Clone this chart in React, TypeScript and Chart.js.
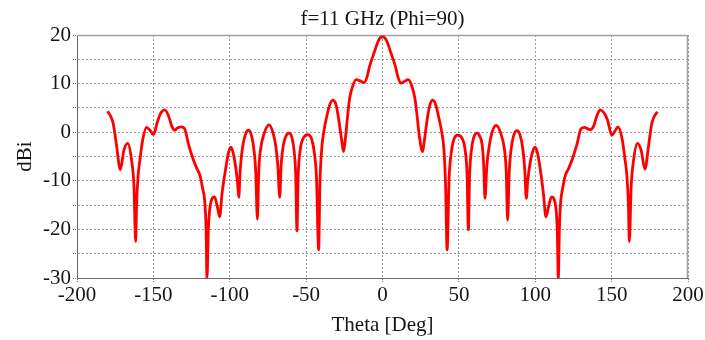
import { useEffect, useRef } from 'react';
import { Chart, registerables } from 'chart.js';

Chart.register(...registerables);

const titleText = 'f=11 GHz (Phi=90)';
const xAxisTitle = 'Theta [Deg]';
const yAxisTitle = 'dBi';
const xMin = -200;
const xMax = 200;
const xStep = 50;
const yMin = -30;
const yMax = 20;
const yGridStep = 5;
const yLabelStep = 10;

const thetaDeg = [
  -180, -178, -176.3, -174.2, -171.6, -169.3, -166.8, -164.3, -162.7, -161.6,
  -161, -160, -158.8, -157, -154.5, -152, -150, -147, -145, -142.5,
  -140, -138, -136.3, -134, -131.6, -129.4, -127, -124, -121.5, -119.6,
  -117.8, -116.3, -115.5, -114.9, -114, -113.3, -111.8, -110, -108.2, -106.6,
  -105, -102.4, -100.8, -99.3, -97.8, -96.2, -95, -94.1, -93.2, -91.8,
  -89.8, -87.6, -85.5, -84, -83, -81.9, -81, -79.8, -77.5, -74.3,
  -71.5, -69.8, -68.5, -67.3, -66.3, -64.8, -63.2, -61.2, -59.2, -57.8,
  -56.8, -56, -55.2, -53.8, -51.8, -48.8, -46.3, -44.5, -43.2, -41.8,
  -41, -39.8, -38.2, -36.8, -34.7, -32.5, -30.4, -28.6, -26.8, -25.5,
  -24.2, -22.8, -21.5, -19.5, -17.2, -15, -12, -10, -8.5, -5.2,
  -3, -1.2, 0,
  1.2, 3, 5.2, 8.5, 10, 12.2, 14.5, 16.8, 19.2, 21.2,
  22.6, 24.2, 26.3, 27.5, 29.2, 31, 32.9, 35, 37, 38.5,
  40.2, 41.3, 42.3, 43.6, 44.9, 46.7, 49.2, 52, 54, 55.4,
  56.2, 57, 58.1, 59.6, 61.9, 63.6, 65.2, 66.2, 67.1, 68.3,
  69.8, 71.5, 74.3, 77.5, 79.8, 81, 81.9, 83, 84, 85.6,
  88, 90, 91.9, 93.2, 94.1, 95.1, 96.3, 98.1, 99.8, 101.4,
  103, 105.3, 107, 108.8, 110.7, 112.4, 113.8, 114.4, 115.1, 115.8,
  116.6, 118, 119.8, 121.8, 124.3, 127.3, 129.8, 132, 135.9, 138.3,
  140.3, 142.5, 145, 147.3, 150.1, 152.3, 154.2, 157, 158.8, 160,
  161, 161.6, 162.8, 164.4, 166.9, 169.3, 171.8, 174.3, 176.3, 178,
  180,
];

const gainDbi = [
  4.3, 3.3, 1.8, -2.5, -7.7, -3.7, -2.3, -5.7, -11.2, -22.5,
  -15, -9, -5.7, -1.6, 1.0, 0.3, -0.5, 2.5, 4.0, 4.6,
  3.3, 1.3, 0.4, 0.9, 1.1, 0.6, -2.5, -5.5, -7.5, -8.8,
  -11.5, -14.5, -20, -30, -20, -16.5, -13.8, -13.3, -15.2, -17.4,
  -12.5, -7, -4.2, -3.1, -4.2, -7, -10, -13.4, -8, -3.5,
  -0.5, 0.4, -1, -4, -8, -17.9, -8, -3.5, -0.3, 1.5,
  -0.3, -3, -7, -13.4, -6.5, -2.5, -0.8, -0.2, -1.2, -4,
  -9, -20.3, -9, -3.5, -1.2, -0.5, -1.5, -4.5, -9.5, -24.2,
  -11, -3.5, 0.5, 2.8, 5.5, 6.6, 5.6, 2.5, -1.5, -4.0,
  -1, 3.5, 7, 9.5, 10.8, 10.6, 10.2, 11.5, 13.5, 16.6,
  18.6, 19.5, 19.6,
  19.5, 18.6, 16.6, 13.5, 11.5, 10.1, 10.5, 10.8, 9.5, 7,
  3.5, -1, -4.0, -1.5, 2.5, 5.6, 6.6, 5.5, 2.8, 0.5,
  -3.5, -11, -24.2, -9.5, -4.5, -1.5, -0.6, -1.2, -3.5, -9,
  -20.1, -9, -4, -1.2, -0.2, -0.8, -2.5, -6.5, -13.6, -7,
  -3, -0.3, 1.4, -0.3, -3.5, -8, -18.1, -8, -4, -1,
  0.3, -0.5, -3.5, -8, -13.6, -10, -7, -4.2, -3.1, -4.2,
  -7, -12.5, -17.4, -15.2, -13.3, -13.8, -16.5, -20, -30, -20,
  -14.5, -11.5, -8.8, -7.5, -5.5, -2.5, 0.6, 1.0, 0.5, 1.3,
  3.3, 4.6, 4.0, 2.5, -0.6, 0.3, 1.1, -1.6, -5.7, -9,
  -15, -22.5, -11.2, -5.7, -2.3, -3.7, -7.6, -2.5, 1.8, 3.3,
  4.2,
];

const FONT = "'Liberation Serif', 'Times New Roman', Times, serif";
const TEXT = '#151515';

export default function App() {
  const ref = useRef<HTMLCanvasElement | null>(null);

  useEffect(() => {
    document.body.style.margin = '0';
    const canvas = ref.current;
    if (!canvas) return;

    const frame = {
      id: 'frame',
      beforeDatasetsDraw(chart: any) {
        const { ctx, chartArea } = chart;
        const { left, right, top, bottom } = chartArea;
        ctx.save();
        ctx.strokeStyle = '#a0a0a0';
        ctx.lineWidth = 1.5;
        ctx.setLineDash([]);
        ctx.beginPath();
        ctx.moveTo(left, Math.round(top) + 0.5);
        ctx.lineTo(right, Math.round(top) + 0.5);
        ctx.moveTo(Math.round(right) - 0.5, top);
        ctx.lineTo(Math.round(right) - 0.5, bottom);
        ctx.stroke();
        ctx.restore();
      },
    };

    const chart = new Chart(canvas, {
      type: 'line',
      data: {
        datasets: [
          {
            data: thetaDeg.map((x, i) => ({ x, y: gainDbi[i] })),
            borderColor: '#ff0000',
            borderWidth: 2.8,
            pointRadius: 0,
            cubicInterpolationMode: 'monotone',
            fill: false,
          },
        ],
      },
      options: {
        responsive: false,
        animation: false,
        events: [],
        layout: { padding: { left: 0, right: 17, top: 0, bottom: 0 } },
        plugins: {
          legend: { display: false },
          tooltip: { enabled: false },
          title: {
            display: true,
            text: titleText,
            fullSize: false,
            color: TEXT,
            font: { family: FONT, size: 21, weight: 'normal' },
            padding: { top: 7, bottom: 2.8 },
          },
        },
        scales: {
          x: {
            type: 'linear',
            min: xMin,
            max: xMax,
            ticks: {
              stepSize: xStep,
              color: TEXT,
              font: { family: FONT, size: 21 },
              padding: 1,
              maxRotation: 0,
              autoSkip: false,
            },
            grid: {
              color: '#9a9a9a',
              drawTicks: true,
              tickLength: 4,
              tickColor: '#777777',
              tickBorderDash: [1, 1],
              lineWidth: 1,
            },
            border: { color: '#666666', width: 1, dash: [2, 2] },
            title: {
              display: true,
              text: xAxisTitle,
              color: TEXT,
              font: { family: FONT, size: 21 },
              padding: { top: 0, bottom: 2 },
            },
            afterFit(scale: any) {
              scale.height = 62;
              scale.paddingLeft = 0;
              scale.paddingRight = 0;
            },
          },
          y: {
            type: 'linear',
            min: yMin,
            max: yMax,
            ticks: {
              stepSize: yGridStep,
              color: TEXT,
              font: { family: FONT, size: 21 },
              padding: 2,
              autoSkip: false,
              callback: (v: any) => (Number(v) % yLabelStep === 0 ? String(v) : ''),
            },
            grid: {
              color: '#9a9a9a',
              drawTicks: true,
              tickLength: 4,
              tickColor: '#777777',
              tickBorderDash: [1, 1],
              lineWidth: 1,
            },
            border: { color: '#666666', width: 1, dash: [2, 2] },
            title: {
              display: true,
              text: yAxisTitle,
              color: TEXT,
              font: { family: FONT, size: 21 },
              padding: { top: 13, bottom: 0 },
            },
            afterFit(scale: any) {
              scale.width = 77;
              scale.paddingTop = 0;
              scale.paddingBottom = 0;
            },
          },
        },
      },
      plugins: [frame],
    } as any);

    return () => chart.destroy();
  }, []);

  return (
    <div style={{ position: 'absolute', left: 0, top: 0, width: 705, height: 340, background: '#fff' }}>
      <canvas ref={ref} width={705} height={340} style={{ display: 'block' }} />
    </div>
  );
}
